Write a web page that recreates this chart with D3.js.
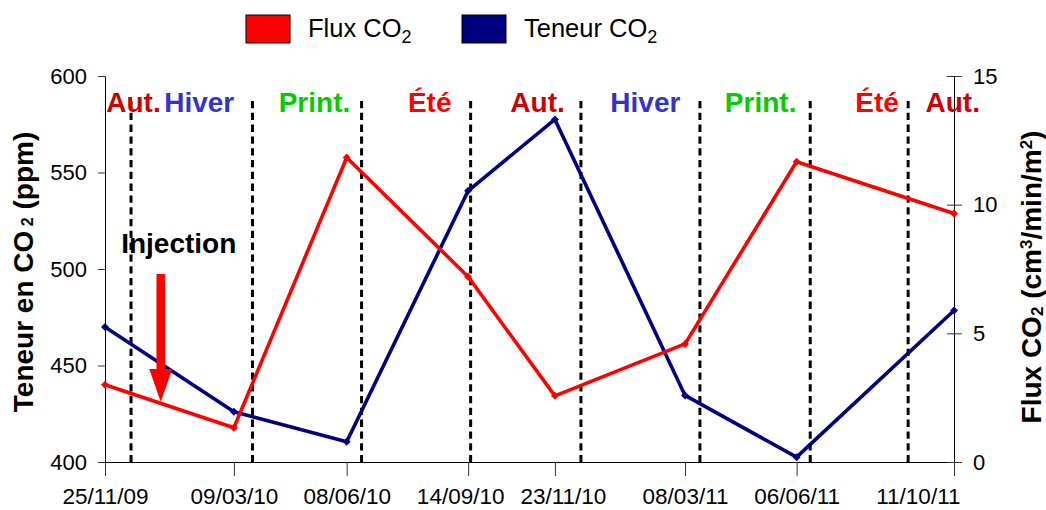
<!DOCTYPE html>
<html>
<head>
<meta charset="utf-8">
<script src="https://cdn.jsdelivr.net/npm/d3@7"></script>
<style>
  html, body { margin: 0; padding: 0; background: #fff; }
  svg { display: block; font-family: "Liberation Sans", Arial, sans-serif; }
</style>
</head>
<body>
<svg id="chart" width="1046" height="510"></svg>
<script>
// Sampling campaigns
const sampleDates = ["2009-11-25", "2010-03-09", "2010-06-08", "2010-09-14",
                     "2010-11-23", "2011-03-08", "2011-06-06", "2011-10-11"];
// CO2 content of the soil gas (ppm), left axis
const teneurCO2 = [470, 426, 410.5, 540.5, 577.5, 434.5, 402.5, 478.5];
// CO2 flux (cm3/min/m2), right axis
const fluxCO2 = [3.0, 1.33, 11.83, 7.2, 2.57, 4.59, 11.67, 9.66];

// Season changes (dashed lines) and season names
const seasonBoundaries = ["2009-12-16", "2010-03-24", "2010-06-20", "2010-09-16",
                          "2010-12-14", "2011-03-20", "2011-06-17", "2011-09-04"];
const seasonLabels = ["Aut.", "Hiver", "Print.", "Été", "Aut.", "Hiver", "Print.", "Été", "Aut."];
const seasonLabelDates = ["2009-12-18", "2010-02-09", "2010-05-13", "2010-08-14",
                          "2010-11-09", "2011-02-04", "2011-05-08", "2011-08-10", "2011-10-10"];

const injectionDate = "2010-01-09";

const teneurTicks = [400, 450, 500, 550, 600];
const fluxTicks = [0, 5, 10, 15];

// ---- layout ----
const W = 1046, H = 510;
const plot = { left: 105, right: 954, top: 76, bottom: 462 };
const font = '"Liberation Sans", Arial, sans-serif';
const RED = "#ff0000", NAVY = "#000080";
const seasonColor = { "Aut.": "#cc0000", "Hiver": "#3333cc", "Print.": "#00cc00", "Été": "#ff0000" };

const parse = d3.utcParse("%Y-%m-%d");
const dates = sampleDates.map(parse);

const x = d3.scaleUtc()
  .domain([dates[0], dates[dates.length - 1]])
  .range([plot.left, plot.right]);
const yL = d3.scaleLinear().domain([400, 600]).range([plot.bottom, plot.top]);
const yR = d3.scaleLinear().domain([0, 15]).range([plot.bottom, plot.top]);

const svg = d3.select("#chart");
svg.append("rect").attr("width", W).attr("height", H).attr("fill", "#fff");

// ---- season dividers ----
svg.append("g").selectAll("line")
  .data(seasonBoundaries.map(parse))
  .join("line")
  .attr("x1", d => x(d)).attr("x2", d => x(d))
  .attr("y1", 101).attr("y2", plot.bottom)
  .attr("stroke", "#000").attr("stroke-width", 3)
  .attr("stroke-dasharray", "7.3,4.5");

// ---- axes ----
const axisStyle = size => g => {
  g.selectAll("path.domain").attr("stroke", "#000").attr("stroke-width", 1);
  g.selectAll(".tick line").attr("stroke", "#333").attr("stroke-width", 1);
  g.selectAll(".tick text").attr("fill", "#000").style("font-family", font).style("font-size", size);
};

const xAxis = svg.append("g")
  .attr("transform", `translate(0,${plot.bottom})`)
  .call(d3.axisBottom(x).tickValues(dates).tickFormat(d3.utcFormat("%d/%m/%y"))
        .tickSize(14).tickSizeOuter(0).tickPadding(12))
  .call(axisStyle("22.5px"));

// keep date labels from colliding: last one ends at the axis, neighbours pushed apart
(function spreadLabels() {
  const texts = xAxis.selectAll(".tick text").nodes();
  const n = texts.length;
  d3.select(texts[n - 1]).attr("text-anchor", "end").attr("dx", 6);
  const boxes = texts.map(t => {
    const tx = +t.parentNode.getAttribute("transform").match(/translate\(([-\d.]+)/)[1];
    const w = t.getComputedTextLength();
    return { t, tx, w, c: tx, anchorEnd: t === texts[n - 1] };
  });
  boxes[n - 1].c = boxes[n - 1].tx + 6 - boxes[n - 1].w / 2;
  const gap = 16;
  for (let i = 0; i < n - 1; i++) {
    const a = boxes[i], b = boxes[i + 1];
    const need = (a.w + b.w) / 2 + gap - (b.c - a.c);
    if (need > 0 && !b.anchorEnd) {
      a.c -= need / 2; b.c += need / 2;
    }
  }
  boxes.forEach(b => { if (!b.anchorEnd) d3.select(b.t).attr("dx", b.c - b.tx); });
})();

svg.append("g")
  .attr("transform", `translate(${plot.left},0)`)
  .call(d3.axisLeft(yL).tickValues(teneurTicks).tickSize(7).tickSizeOuter(0).tickPadding(11))
  .call(axisStyle("22px"));

svg.append("g")
  .attr("transform", `translate(${plot.right},0)`)
  .call(d3.axisRight(yR).tickValues(fluxTicks).tickSize(8).tickSizeOuter(0).tickPadding(11))
  .call(axisStyle("22px"))
  .call(g => g.selectAll(".tick line").attr("x1", -7));

// ---- axis titles ----
const leftTitle = svg.append("text")
  .attr("transform", "rotate(-90)")
  .attr("x", -272).attr("y", 33)
  .attr("text-anchor", "middle")
  .style("font-family", font).style("font-size", "28px").style("font-weight", "bold");
leftTitle.append("tspan").text("Teneur en CO");
leftTitle.append("tspan").style("font-size", "16px").text("\u00A02");
leftTitle.append("tspan").text(" (ppm)");

const rightTitle = svg.append("text")
  .attr("transform", "rotate(-90)")
  .attr("x", -277).attr("y", 1041)
  .attr("text-anchor", "middle")
  .style("font-family", font).style("font-size", "28px").style("font-weight", "bold");
rightTitle.append("tspan").text("Flux CO");
rightTitle.append("tspan").style("font-size", "17px").attr("dy", 2).text("2");
rightTitle.append("tspan").attr("dy", -2).text(" (cm");
rightTitle.append("tspan").style("font-size", "17px").attr("dy", -9).text("3");
rightTitle.append("tspan").attr("dy", 9).text("/min/m");
rightTitle.append("tspan").style("font-size", "17px").attr("dy", -9).text("2");
rightTitle.append("tspan").attr("dy", 9).text(")");

// ---- series ----
const series = [
  { values: teneurCO2, y: yL, color: NAVY },
  { values: fluxCO2, y: yR, color: RED }
];
series.forEach(s => {
  const pts = dates.map((d, i) => [x(d), s.y(s.values[i])]);
  svg.append("path")
    .attr("d", d3.line()(pts))
    .attr("fill", "none").attr("stroke", s.color)
    .attr("stroke-width", 3.6).attr("stroke-linejoin", "round");
  svg.append("g").selectAll("path")
    .data(pts)
    .join("path")
    .attr("d", d3.symbol(d3.symbolSquare, 32)())
    .attr("transform", d => `translate(${d[0]},${d[1]}) rotate(45)`)
    .attr("fill", s.color);
});

// ---- season names ----
svg.append("g").selectAll("text")
  .data(seasonLabels.map((name, i) => ({ name, date: parse(seasonLabelDates[i]) })))
  .join("text")
  .attr("x", d => x(d.date)).attr("y", 112)
  .attr("text-anchor", "middle")
  .attr("fill", d => seasonColor[d.name])
  .style("font-family", font).style("font-size", "28px").style("font-weight", "bold")
  .text(d => d.name);

// ---- injection marker ----
const ix = x(parse(injectionDate));
svg.append("text")
  .attr("x", ix + 18).attr("y", 253)
  .attr("text-anchor", "middle")
  .style("font-family", font).style("font-size", "28px").style("font-weight", "bold")
  .text("Injection");
svg.append("path")
  .attr("d", `M${ix - 4.3},274 L${ix + 4.3},274 L${ix + 4.3},369 L${ix + 11.5},369 L${ix},402 L${ix - 11.5},369 L${ix - 4.3},369 Z`)
  .attr("fill", RED);

// ---- legend ----
const legendItems = [
  { label: "Flux CO", color: RED, x: 246 },
  { label: "Teneur CO", color: NAVY, x: 462 }
];
const lg = svg.append("g").selectAll("g").data(legendItems).join("g")
  .attr("transform", d => `translate(${d.x},15)`);
lg.append("rect").attr("width", 44).attr("height", 28)
  .attr("fill", d => d.color).attr("stroke", "#000").attr("stroke-width", 1);
const lt = lg.append("text").attr("x", 62).attr("y", 22)
  .style("font-family", font).style("font-size", "25.5px").attr("fill", "#000");
lt.append("tspan").text(d => d.label);
lt.append("tspan").style("font-size", "18px").attr("dy", 6).text("2");
</script>
</body>
</html>
